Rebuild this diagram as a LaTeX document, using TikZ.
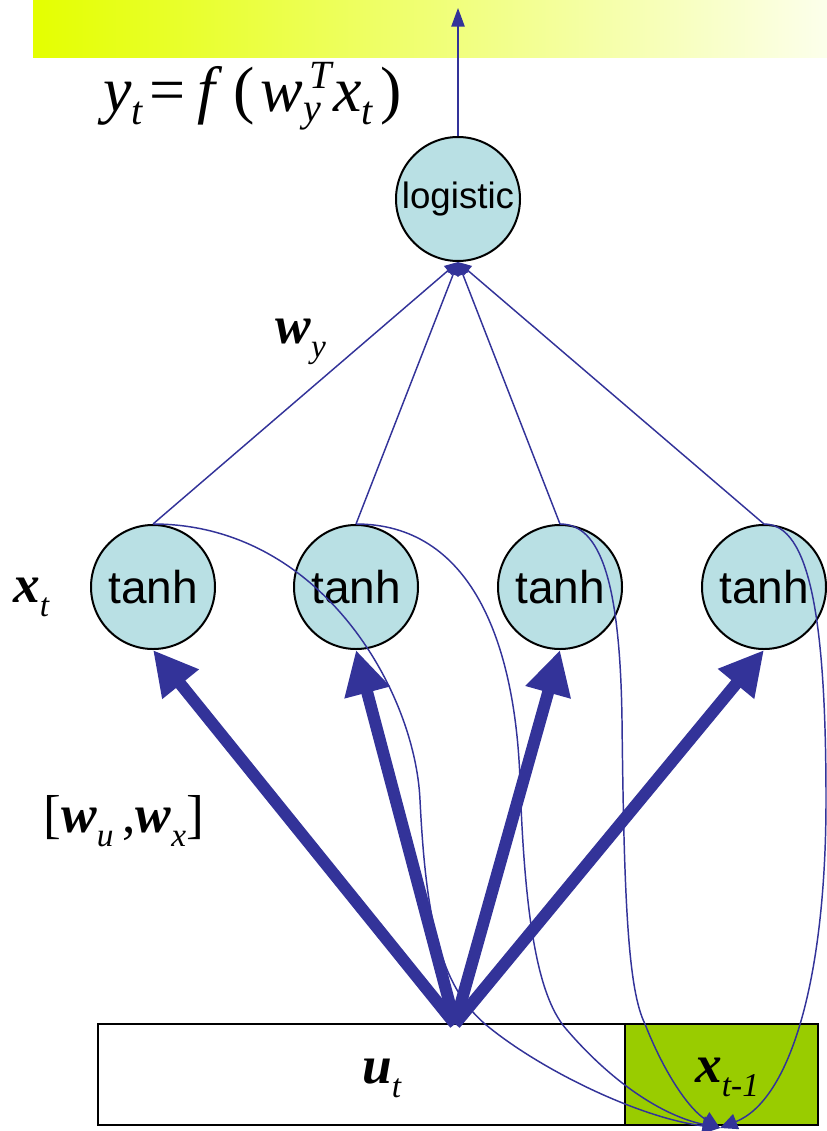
\documentclass[tikz,border=0pt]{standalone}
\usepackage{amsmath}
\usepackage{fontspec}
\setmainfont{Liberation Serif}
\newfontfamily\arialfont{Liberation Sans}
\usetikzlibrary{arrows.meta,positioning}

\definecolor{netblue}{RGB}{51,51,153}
\definecolor{cellcyan}{RGB}{185,224,228}
\definecolor{ctxgreen}{RGB}{153,204,0}
\definecolor{baryellow}{RGB}{228,255,0}
\definecolor{barwhite}{RGB}{252,255,235}

% bold italic letter, lowered italic subscript
\newcommand{\bi}[1]{\textbf{\textit{#1}}}
\newcommand{\lsub}[1]{\raisebox{-11pt}{\fontsize{25}{25}\selectfont\mdseries\itshape #1}}
\newcommand{\esub}[2][-10pt]{\raisebox{#1}{\fontsize{30}{30}\selectfont\itshape #2}}

\tikzset{
  unit/.style={circle, draw=black, line width=1.5pt, fill=cellcyan,
    minimum size=93pt, inner sep=0pt},
  ctxbox/.style={rectangle, draw=black, line width=1.5pt, inner sep=0pt,
    minimum height=75.75pt},
  fwd/.style={draw=netblue, line width=9pt,
    -{Triangle[length=33pt,width=33pt]}},
  thin/.style={draw=netblue, line width=1.1pt},
  rec/.style={thin, -{Triangle[length=13pt,width=12pt]}},
  lbl/.style={inner sep=0pt, anchor=base west, font=\fontsize{40}{40}\selectfont},
}

\begin{document}
\begin{tikzpicture}[x=0.75pt,y=0.75pt,yscale=-1,xscale=1]
\useasboundingbox (0,0) rectangle (827,1131);

% output bar
\fill [left color=baryellow, right color=barwhite] (33,0) rectangle (827,58);

% units
\node (logi) [unit, font=\arialfont\fontsize{27.5}{27.5}\selectfont] at (458,199) {logistic};
\node (t1) [unit, font=\arialfont\fontsize{34.5}{34.5}\selectfont] at (153,587) {tanh};
\node (t2) [unit, font=\arialfont\fontsize{34.5}{34.5}\selectfont] at (356,587) {tanh};
\node (t3) [unit, font=\arialfont\fontsize{34.5}{34.5}\selectfont] at (560,587) {tanh};
\node (t4) [unit, font=\arialfont\fontsize{34.5}{34.5}\selectfont] at (764,587) {tanh};

% input boxes
\node (ubox) [ctxbox, fill=white, minimum width=395.25pt] at (361.5,1074.5) {};
\node (xbox) [ctxbox, fill=ctxgreen, minimum width=144.75pt] at (721.5,1074.5) {};
\coordinate (src) at (455,1024);
\coordinate (rin) at (720,1128);
\coordinate (yout) at (458,8);

% output arrow
\draw [thin, -{Triangle[length=14pt,width=10pt]}] (logi.north) -- (yout);

% hidden to output
\foreach \n in {t1,t2,t3,t4}
  \draw [thin, -{Triangle[length=10pt,width=9pt]}] (\n.north) -- (logi.south);

% recurrent copies
\draw [rec] (t1.north) .. controls (320,524) and (415,690) .. (420,800)
  .. controls (426,920) and (440,985) .. (485,1024)
  .. controls (540,1070) and (640,1118) .. (rin);
\draw [rec] (t2.north) .. controls (470,524) and (515,640) .. (520,780)
  .. controls (525,930) and (540,1000) .. (567,1030)
  .. controls (610,1080) and (660,1115) .. (rin);
\draw [rec] (t3.north) .. controls (600,524) and (620,580) .. (622,720)
  .. controls (624,900) and (628,990) .. (645,1024)
  .. controls (665,1075) and (690,1110) .. (rin);
\draw [rec] (t4.north) .. controls (810,524) and (826,620) .. (826,800)
  .. controls (826,980) and (790,1100) .. (rin);

% input to hidden
\foreach \n in {t1,t2,t3,t4}
  \draw [fwd] (src) -- (\n.south);

% Text Node
\node (eq) [inner sep=0pt, anchor=base west, font=\fontsize{48}{48}\selectfont] at (103,111)
  {\itshape y\esub{t}\hspace{5pt}\upshape=\hspace{9pt}\itshape f\hspace{14pt}\upshape(\hspace{4pt}\itshape w\rlap{\hspace{5pt}\esub[17pt]{T}}\esub[-8pt]{y}\hspace{9pt}x\esub{t}\hspace{6pt}\upshape)};
% Text Node
\node (wy) [lbl] at (275,343) {\bi{w}\lsub{y}};
% Text Node
\node (xt) [lbl] at (13,602) {\bi{x}\lsub{t}};
% Text Node
\node (wuwx) [lbl] at (43,832) {[\bi{w}\lsub{u}\,,\bi{w}\lsub{x}]};
% Text Node
\node (ut) [lbl] at (362,1083) {\bi{u}\lsub{t}};
% Text Node
\node (xprev) [lbl] at (695,1082) {\bi{x}\lsub{t-1}};
\end{tikzpicture}
\end{document}
